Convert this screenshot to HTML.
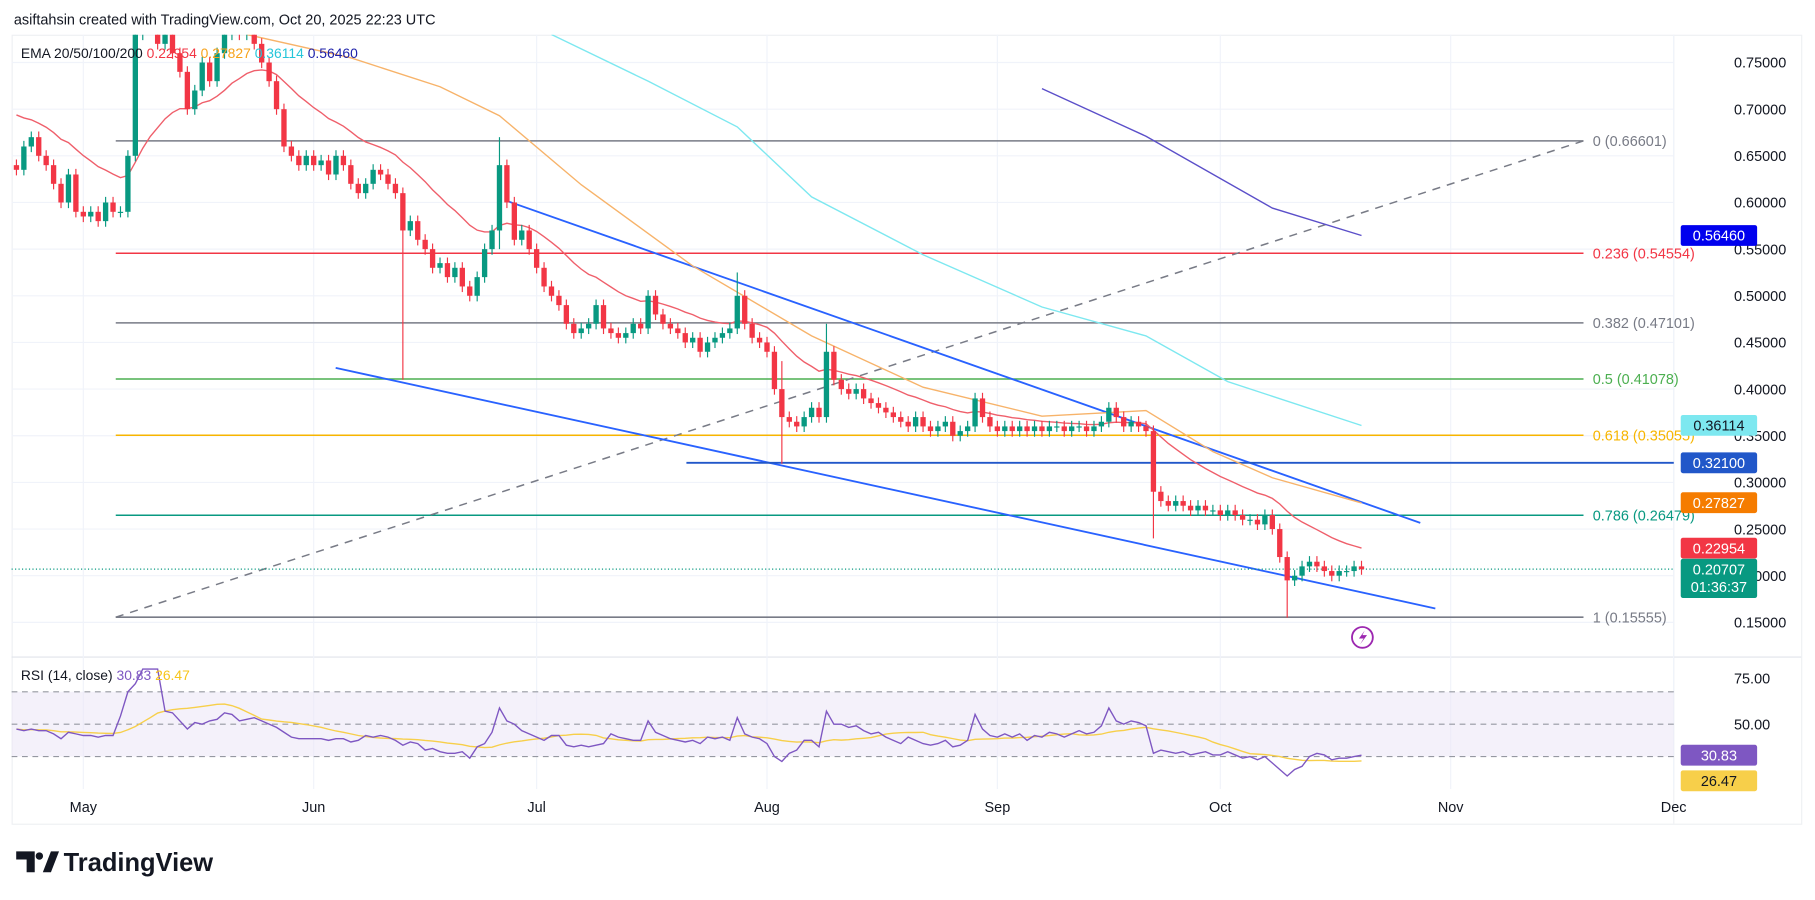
<!DOCTYPE html>
<html><head><meta charset="utf-8"><style>
html,body{margin:0;padding:0;background:#fff;width:1815px;height:900px;overflow:hidden}
svg{display:block;font-family:"Liberation Sans",sans-serif}
</style></head><body>
<svg id="chart" width="1815" height="900" viewBox="0 0 1568 778" preserveAspectRatio="none" xmlns="http://www.w3.org/2000/svg">
<defs><clipPath id="pc"><rect x="10" y="30" width="1440" height="538"/></clipPath>
<clipPath id="rc"><rect x="10" y="570" width="1440" height="112"/></clipPath></defs>
<text x="12" y="21" font-size="12.5" fill="#131722">asiftahsin created with TradingView.com, Oct 20, 2025 22:23 UTC</text>
<rect x="10.5" y="30.5" width="1546" height="682" fill="none" stroke="#eef0f3"/>
<line x1="1446" y1="30" x2="1446" y2="712" stroke="#eef0f3"/>
<line x1="10" y1="568" x2="1556" y2="568" stroke="#e0e3eb"/>
<g id="grid"></g>
<g id="fibs"></g>
<g id="price" clip-path="url(#pc)"></g>
<g id="rsi" clip-path="url(#rc)"></g>
<g id="axes"></g>
<text x="18" y="50" font-size="12" fill="#131722">EMA 20/50/100/200 <tspan fill="#f23645">0.22954</tspan> <tspan fill="#f7a21b">0.27827</tspan> <tspan fill="#26c6da">0.36114</tspan> <tspan fill="#1e22aa">0.56460</tspan></text>
<text x="18" y="588" font-size="12" fill="#131722">RSI (14, close) <tspan fill="#7e57c2">30.83</tspan> <tspan fill="#f7c51b">26.47</tspan></text>
<g><circle cx="1177" cy="551" r="9" fill="none" stroke="#9c27b0" stroke-width="1.6"/><path d="M1179 545 L1174 552 L1178 552 L1175 557 L1181 549 L1177 549 Z" fill="#9c27b0"/></g>
<g><path d="M14 736 H30 V754 H23 V743 H14 Z" fill="#131722"/><circle cx="34" cy="740" r="3.2" fill="#131722"/><path d="M37 754 L44 736 H51 L44 754 Z" fill="#131722"/>
<text x="55" y="753" font-size="22" font-weight="bold" fill="#131722">TradingView</text></g>
</svg>
<script>
const closes=[0.635,0.66,0.67,0.65,0.64,0.62,0.60,0.63,0.59,
0.585,0.59,0.58,0.60,0.59,0.59,0.65,0.78,0.80,0.79,0.77,0.78,0.76,0.74,0.70,0.72,0.75,0.73,0.76,0.78,0.80,0.78,0.79,0.77,0.75,0.73,0.70,0.66,0.65,0.64,0.65,
0.64,0.645,0.63,0.65,0.64,0.62,0.61,0.62,0.635,0.63,0.62,0.61,0.57,0.58,0.56,0.55,0.53,0.535,0.52,0.53,0.51,0.50,0.52,0.55,0.57,0.64,0.60,0.56,0.57,0.55,
0.53,0.51,0.50,0.49,0.47,0.46,0.465,0.47,0.49,0.465,0.46,0.455,0.46,0.47,0.465,0.50,0.48,0.47,0.465,0.46,0.45,0.455,0.44,0.45,0.455,0.46,0.465,0.50,0.47,0.455,0.45,
0.44,0.40,0.37,0.365,0.36,0.37,0.38,0.37,0.44,0.41,0.40,0.395,0.40,0.39,0.385,0.38,0.375,0.37,0.365,0.36,0.37,0.36,0.355,0.36,0.365,0.35,0.355,0.36,0.39,0.37,0.36,
0.355,0.36,0.355,0.36,0.355,0.36,0.355,0.36,0.36,0.355,0.36,0.36,0.355,0.36,0.365,0.38,0.37,0.36,0.365,0.36,0.355,0.29,0.28,0.275,0.28,0.275,0.27,0.275,0.27,0.27,
0.265,0.27,0.265,0.26,0.26,0.255,0.265,0.25,0.22,0.195,0.20,0.21,0.215,0.21,0.205,0.20,0.205,0.205,0.21,0.207];
const firstOpen=0.64;
const spikeIdx=[52,65,97,103,109,153,171];
const spikeHigh=[0.59,0.67,0.525,0.43,0.47,0.36,0.225];
const spikeLow=[0.41,0.55,0.46,0.32,0.365,0.24,0.155];
const ema50Idx=[31,45,57,65,76,91,107,122,138,152,161,169,181];
const ema50Val=[0.78,0.755,0.724,0.693,0.619,0.532,0.457,0.402,0.371,0.377,0.333,0.305,0.278];
const ema100Idx=[72,85,97,107,122,138,152,163,181];
const ema100Val=[0.78,0.73,0.681,0.606,0.544,0.488,0.457,0.408,0.361];
const ema200Idx=[138,152,169,181];
const ema200Val=[0.722,0.671,0.594,0.5646];
const rsiVals=[47,46,47,46,46,44,41,45,44,
43,43,42,43,43,55,70,75,84,84,84,58,57,52,47,51,50,52,53,57,56,52,53,54,52,50,48,45,42,41,41,
41,41,40,41,41,39,40,43,42,43,42,40,37,39,38,34,35,33,32,32,33,29,36,38,45,60,52,50,46,44,
42,40,43,43,37,36,37,36,37,38,44,42,41,40,40,52,45,43,41,40,39,40,38,42,41,42,40,54,44,42,41,
38,30,27,32,34,40,40,36,58,50,50,48,49,46,44,45,42,40,38,42,40,38,37,38,40,36,37,40,56,47,43,
42,44,42,44,40,43,42,45,44,42,44,46,44,45,49,60,52,50,52,51,49,32,34,33,32,33,31,32,33,31,
31,33,31,29,30,28,30,26,22,18,22,24,30,32,31,28,29,29,30,30.83];
const priceTicks=[0.75,0.70,0.65,0.60,0.55,0.50,0.45,0.40,0.35,0.30,0.25,0.20,0.15];
const rsiTicks=[75,50];
const monthLabels=["May","Jun","Jul","Aug","Sep","Oct","Nov","Dec"];
const monthIdx=[9,40,70,101,132,162,193,223];
const fibRatios=["0","0.236","0.382","0.5","0.618","0.786","1"];
const fibPrices=[0.66601,0.54554,0.47101,0.41078,0.35055,0.26479,0.15555];
const fibColors=["#787b86","#f23645","#787b86","#4caf50","#f7b500","#089981","#787b86"];

const NS="http://www.w3.org/2000/svg";
const X=i=>14.2+6.42*i;
const Y=p=>538-(p-0.15)/0.05*40.33;
const RY=r=>626-(r-50)*1.4;
function mk(tag,attrs,parent){const e=document.createElementNS(NS,tag);for(const k in attrs)e.setAttribute(k,attrs[k]);parent.appendChild(e);return e;}
const G=id=>document.getElementById(id);
const grid=G('grid'),price=G('price'),rsi=G('rsi'),axes=G('axes'),fibs=G('fibs');

priceTicks.forEach(p=>{
  const l=mk('line',{x1:10,x2:1446,y1:Y(p),y2:Y(p),stroke:'#f0f3fa'},grid);
  
  
  const t=mk('text',{x:1498,y:Y(p)+4.5,'font-size':12.5,fill:'#131722'},axes);
  t.textContent=p.toFixed(5);
  
  
});
monthIdx.forEach((m,k)=>{
  const l=mk('line',{x1:X(m),x2:X(m),y1:30,y2:682,stroke:'#f0f3fa'},grid);
  
  
  const t=mk('text',{x:X(m),y:702,'font-size':12.5,fill:'#131722','text-anchor':'middle'},axes);
  t.textContent=monthLabels[k];
  
  
});

// fib + drawings
fibPrices.forEach((p,k)=>{
  const l=mk('line',{x1:100,x2:1368,y1:Y(p),y2:Y(p),stroke:fibColors[k],'stroke-width':1.3},fibs);
  
  
  const t=mk('text',{x:1376,y:Y(p)+4.5,'font-size':12.5,fill:fibColors[k]},fibs);
  t.textContent=fibRatios[k]+' ('+p.toFixed(5)+')';
  
  
});
let d=mk('line',{x1:100,y1:Y(fibPrices[6]),x2:1368,y2:Y(fibPrices[0]),stroke:'#787b86','stroke-width':1.3,'stroke-dasharray':'7 6'},fibs);


d=mk('line',{x1:436,y1:173,x2:1227,y2:452,stroke:'#2962ff','stroke-width':1.6},fibs);


d=mk('line',{x1:290,y1:318,x2:1240,y2:526,stroke:'#2962ff','stroke-width':1.6},fibs);


d=mk('line',{x1:593,y1:Y(0.321),x2:1446,y2:Y(0.321),stroke:'#2157c9','stroke-width':1.6},fibs);


d=mk('line',{x1:10,y1:Y(0.20707),x2:1446,y2:Y(0.20707),stroke:'#089981','stroke-width':1,'stroke-dasharray':'1 2'},fibs);



// EMA20 from closes
let e=0.70;const ema20=[];
closes.forEach(c=>{e=c*2/21+e*19/21;ema20.push(e);});
function poly(idx,vals,color,name){
  const pts=idx.map((i,k)=>X(i)+','+Y(vals[k])).join(' ');
  const p=mk('polyline',{points:pts,fill:'none',stroke:color,'stroke-width':1.2},price);
  
  
}
poly(ema200Idx,ema200Val,'#5b4fc9','ema200-line');
poly(ema100Idx,ema100Val,'#7de8f0','ema100-line');
poly(ema50Idx,ema50Val,'#f7b36a','ema50-line');
poly(closes.map((c,i)=>i),ema20,'#ef5f6b','ema20-line');

// candles
closes.forEach((c,i)=>{
  const o=i===0?firstOpen:closes[i-1];
  const up=c>=o;const col=up?'#089981':'#f23645';
  let hi=Math.max(o,c)+0.006,lo=Math.min(o,c)-0.006;
  const s=spikeIdx.indexOf(i);
  if(s>=0){hi=Math.max(hi,spikeHigh[s]);lo=Math.min(lo,spikeLow[s]);}
  const w=mk('line',{x1:X(i),x2:X(i),y1:Y(hi),y2:Y(lo),stroke:col,'stroke-width':1},price);
  
  
  const top=Y(Math.max(o,c)),h=Math.max(1,Y(Math.min(o,c))-top);
  const b=mk('rect',{x:X(i)-2.3,y:top,width:4.6,height:h,fill:col},price);
  
  
});

// RSI pane
const band=mk('rect',{x:10,y:RY(70),width:1436,height:RY(30)-RY(70),fill:'#ede7f6',opacity:0.6},rsi);


[70,50,30].forEach(v=>{
  const l=mk('line',{x1:10,x2:1446,y1:RY(v),y2:RY(v),stroke:'#9598a1','stroke-dasharray':'5 4'},rsi);
  
  
});
const ma=[];
rsiVals.forEach((v,i)=>{const a=rsiVals.slice(Math.max(0,i-13),i+1);ma.push(a.reduce((s,x)=>s+x,0)/a.length);});
let p=mk('polyline',{points:ma.map((v,i)=>X(i)+','+RY(v)).join(' '),fill:'none',stroke:'#f7cf4a','stroke-width':1.2},rsi);


p=mk('polyline',{points:rsiVals.map((v,i)=>X(i)+','+RY(v)).join(' '),fill:'none',stroke:'#7e57c2','stroke-width':1.2},rsi);


rsiTicks.forEach(v=>{
  const t=mk('text',{x:1498,y:RY(v)+(v===75?0:4.5),'font-size':12.5,fill:'#131722'},axes);
  t.textContent=v.toFixed(2);
  
  
});

// axis tags
function tag(y,txt,bg,fg,name,h){
  const g=mk('g',{},axes);
  
  
  mk('rect',{x:1452,y:y-9,width:66,height:h||18,rx:2,fill:bg},g);
  const t=mk('text',{x:1485,y:y+4.5,'font-size':12.5,fill:fg,'text-anchor':'middle'},g);
  t.textContent=txt;
  return g;
}
tag(Y(0.5646),'0.56460','#0000ee','#fff','ema200-tag');
tag(Y(0.36114),'0.36114','#7de8f0','#131722','ema100-tag');
tag(Y(0.321),'0.32100','#2157c9','#fff','support-tag');
tag(Y(0.27827),'0.27827','#f57c00','#fff','ema50-tag');
tag(Y(0.22954),'0.22954','#f23645','#fff','ema20-tag');
const cg=tag(Y(0.20707),'0.20707','#089981','#fff','last-price-tag',34);
const ct=mk('text',{x:1485,y:Y(0.20707)+20,'font-size':12.5,fill:'#fff','text-anchor':'middle'},cg);
ct.textContent='01:36:37';
tag(RY(30.83),'30.83','#7e57c2','#fff','rsi-value-tag');
tag(RY(26.47)+16,'26.47','#f7cf4a','#131722','rsi-ma-tag');
</script>
</body></html>
